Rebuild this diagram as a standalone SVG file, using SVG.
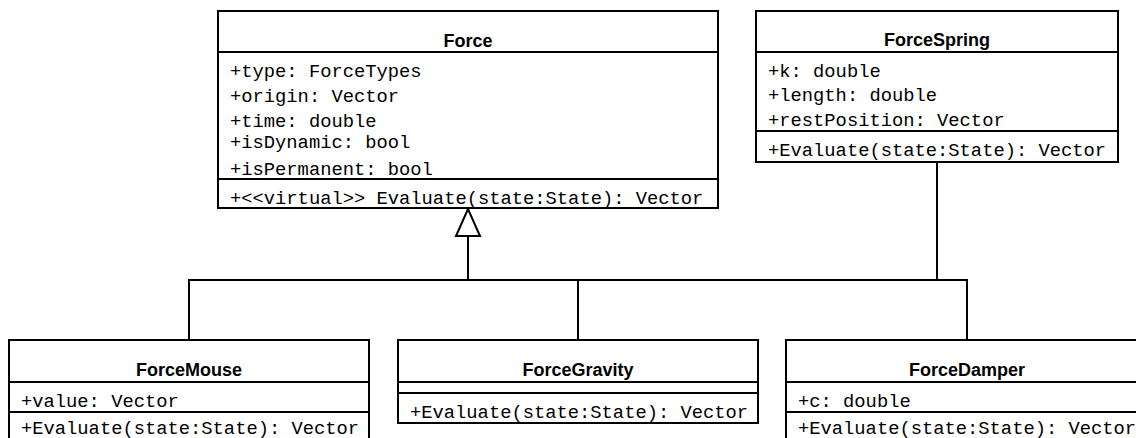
<svg xmlns="http://www.w3.org/2000/svg" width="1136" height="438" viewBox="0 0 1136 438">
<style>
.box{fill:#fff;stroke:#000;stroke-width:2}
.div{stroke:#000;stroke-width:2}
.title{font-family:"Liberation Sans",Arial,sans-serif;font-weight:bold;font-size:18px;text-anchor:middle;fill:#000}
.m{font-family:"Liberation Mono","Courier New",monospace;font-size:18.8px;fill:#000}
.conn{fill:none;stroke:#000;stroke-width:2}
</style>
<rect width="1136" height="438" fill="#fff"/>
<g id="connectors">
<path class="conn" d="M468,236 V280 M189,340 V280 H967 V340 M578,280 V340 M937,162 V280"/>
<polygon points="468,209 456,236 480,236" fill="#fff" stroke="#000" stroke-width="2"/>
</g>
<g id="Force">
<rect class="box" x="218" y="11" width="500" height="197"/>
<line class="div" x1="218" y1="52" x2="718" y2="52"/>
<line class="div" x1="218" y1="179" x2="718" y2="179"/>
<text class="title" x="468" y="47">Force</text>
<text class="m" x="230" y="77">+type: ForceTypes</text>
<text class="m" x="230" y="101.5">+origin: Vector</text>
<text class="m" x="230" y="126.5">+time: double</text>
<text class="m" x="230" y="148">+isDynamic: bool</text>
<text class="m" x="230" y="175">+isPermanent: bool</text>
<text class="m" x="230" y="204">+&lt;&lt;virtual&gt;&gt; Evaluate(state:State): Vector</text>
</g>
<g id="ForceSpring">
<rect class="box" x="756" y="11" width="362" height="151"/>
<line class="div" x1="756" y1="52" x2="1118" y2="52"/>
<line class="div" x1="756" y1="131" x2="1118" y2="131"/>
<text class="title" x="937" y="46">ForceSpring</text>
<text class="m" x="768" y="77">+k: double</text>
<text class="m" x="768" y="101">+length: double</text>
<text class="m" x="768" y="125.5">+restPosition: Vector</text>
<text class="m" x="768" y="155.5">+Evaluate(state:State): Vector</text>
</g>
<g id="ForceMouse">
<rect class="box" x="9" y="340" width="360" height="110"/>
<line class="div" x1="9" y1="382" x2="369" y2="382"/>
<line class="div" x1="9" y1="412" x2="369" y2="412"/>
<text class="title" x="189" y="376">ForceMouse</text>
<text class="m" x="21" y="406.5">+value: Vector</text>
<text class="m" x="21" y="434">+Evaluate(state:State): Vector</text>
</g>
<g id="ForceGravity">
<rect class="box" x="398" y="340" width="360" height="83"/>
<line class="div" x1="398" y1="382" x2="758" y2="382"/>
<line class="div" x1="398" y1="393" x2="758" y2="393"/>
<text class="title" x="578" y="376">ForceGravity</text>
<text class="m" x="410" y="418">+Evaluate(state:State): Vector</text>
</g>
<g id="ForceDamper">
<rect class="box" x="786" y="340" width="362" height="110"/>
<line class="div" x1="786" y1="382" x2="1148" y2="382"/>
<line class="div" x1="786" y1="412" x2="1148" y2="412"/>
<text class="title" x="967" y="376">ForceDamper</text>
<text class="m" x="798" y="406.5">+c: double</text>
<text class="m" x="798" y="434">+Evaluate(state:State): Vector</text>
</g>
</svg>
